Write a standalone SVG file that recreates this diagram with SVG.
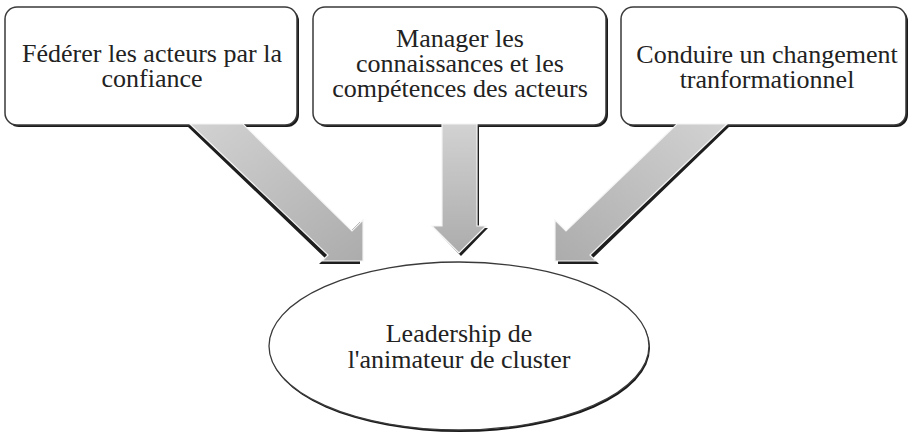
<svg xmlns="http://www.w3.org/2000/svg" width="911" height="433" viewBox="0 0 911 433">
<defs>
<linearGradient id="g1" x1="0" y1="0" x2="1" y2="1">
<stop offset="0" stop-color="#d2d2d2"/>
<stop offset="1" stop-color="#acacac"/>
</linearGradient>
<linearGradient id="g2" x1="0" y1="0" x2="0" y2="1">
<stop offset="0" stop-color="#d2d2d2"/>
<stop offset="1" stop-color="#acacac"/>
</linearGradient>
<linearGradient id="g3" x1="1" y1="0" x2="0" y2="1">
<stop offset="0" stop-color="#d2d2d2"/>
<stop offset="1" stop-color="#acacac"/>
</linearGradient>
</defs>
<style>
.shadow{fill:#1a1a1a}
.box{fill:#ffffff;stroke:#3a3a3a;stroke-width:1.5}
.arrow{stroke:#f4f4f4;stroke-width:1.2;stroke-linejoin:miter}
.ashadow{fill:#1e1e1e}
.t{font-family:'Liberation Serif','Times New Roman',serif;font-size:26px;fill:#222222;text-anchor:middle}
</style>
<rect width="911" height="433" fill="#ffffff"/>
<g id="node-federer">
<rect class="shadow" x="7" y="9" width="292" height="118" rx="12"/>
<rect class="box" x="5" y="7" width="292" height="118" rx="12"/>
<text class="t" font-family="Liberation Serif, serif" x="152" y="62">Fédérer les acteurs par la</text>
<text class="t" font-family="Liberation Serif, serif" x="152" y="87">confiance</text>
</g>
<g id="node-manager">
<rect class="shadow" x="315" y="9" width="293" height="118" rx="12"/>
<rect class="box" x="313" y="7" width="293" height="118" rx="12"/>
<text class="t" font-family="Liberation Serif, serif" x="460" y="47">Manager les</text>
<text class="t" font-family="Liberation Serif, serif" x="460" y="72">connaissances et les</text>
<text class="t" font-family="Liberation Serif, serif" x="460" y="97">compétences des acteurs</text>
</g>
<g id="node-conduire">
<rect class="shadow" x="623" y="9" width="285" height="118" rx="12"/>
<rect class="box" x="621" y="7" width="285" height="118" rx="12"/>
<text class="t" font-family="Liberation Serif, serif" x="767" y="63">Conduire un changement</text>
<text class="t" font-family="Liberation Serif, serif" x="767" y="88">tranformationnel</text>
</g>
<g id="node-leadership">
<ellipse cx="460" cy="348" rx="190" ry="84" fill="#1a1a1a"/>
<ellipse cx="459" cy="346" rx="190" ry="84" fill="#ffffff" stroke="#3a3a3a" stroke-width="1.3"/>
<text class="t" font-family="Liberation Serif, serif" x="459" y="342">Leadership de</text>
<text class="t" font-family="Liberation Serif, serif" x="459" y="368">l'animateur de cluster</text>
</g>
<g id="connectors">
<polygon class="ashadow" points="187,126 240,126 349,233 360,222 360,264 319,264 325,258"/>
<polygon class="arrow" fill="url(#g1)" points="190,124 243,124 352,231 363,220 363,261 322,261 328,255"/>
<polygon class="ashadow" points="444,126 479,126 479,228 488,228 461,256 434,228 444,228"/>
<polygon class="arrow" fill="url(#g2)" points="442,124 477,124 477,226 486,226 459,253 432,226 442,226"/>
<polygon class="ashadow" points="680,126 730,126 593,258 599,264 558,264 558,223 569,234"/>
<polygon class="arrow" fill="url(#g3)" points="677,124 727,124 590,255 596,261 555,261 555,220 566,231"/>
</g>
</svg>
